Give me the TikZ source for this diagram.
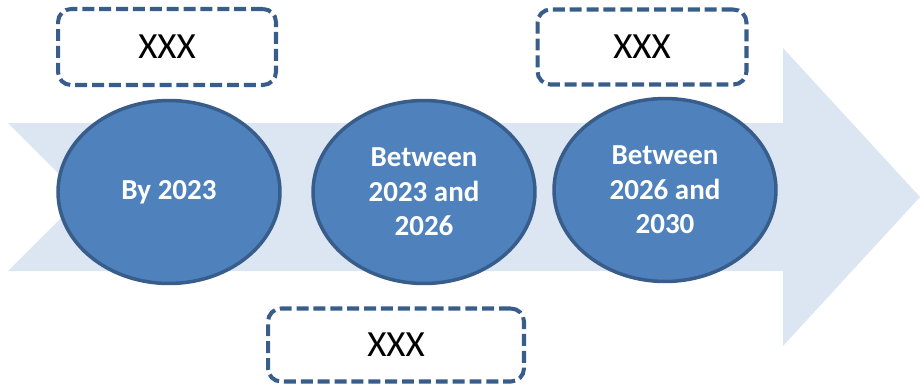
\documentclass[tikz,border=0pt]{standalone}
\usepackage{fontspec}
\setmainfont{Carlito}
\usetikzlibrary{shapes.geometric}
\definecolor{stageblue}{HTML}{4F81BD}
\definecolor{stageedge}{HTML}{385D8A}
\definecolor{arrowfill}{HTML}{DCE6F2}
\begin{document}
\begin{tikzpicture}[x=0.02cm, y=-0.02cm,
    stage/.style={ellipse, fill=stageblue, draw=stageedge, line width=2pt, minimum width=4.44cm, minimum height=3.66cm, inner sep=0pt, align=center, text=white, font=\fontsize{16.5}{19.6}\selectfont\bfseries},
    note/.style={draw=stageedge, line width=2.3pt, dash pattern=on 6.8pt off 2.8pt, rounded corners=0.26cm, align=center, font=\fontsize{21}{25}\selectfont}]
    % Frame
    \useasboundingbox (0,0) rectangle (920,386);

    % Arrow
    \fill[arrowfill] (8,123) -- (783,123) -- (783,48) -- (920,197) -- (783,346) -- (783,271) -- (8,271) -- (82,197) -- cycle;

    % Stages
    \node[stage] (by) at (169,192) {By 2023};
    \node[stage] (mid) at (424,192) {Between\\2023 and\\2026};
    \node[stage] (late) at (665,190) {Between\\2026 and\\2030};

    % Notes
    \node[note, minimum width=4.36cm, minimum height=1.52cm] (nby) at (167,47) {XXX};
    \node[note, minimum width=4.18cm, minimum height=1.5cm] (nlate) at (642,47) {XXX};
    \node[note, minimum width=5.12cm, minimum height=1.46cm] (nmid) at (396,345) {XXX};
\end{tikzpicture}
\end{document}
